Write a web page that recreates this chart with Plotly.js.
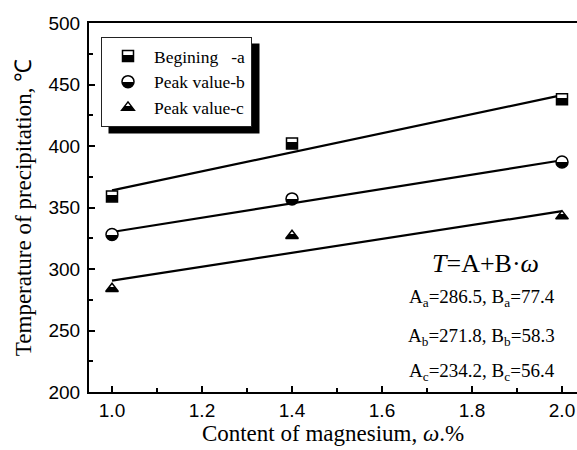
<!DOCTYPE html>
<html><head><meta charset="utf-8">
<script src="https://cdn.plot.ly/plotly-3.0.1.min.js"></script>
<style>html,body{margin:0;padding:0;overflow:hidden;background:#fff}</style>
</head><body>
<svg width="0" height="0" style="position:absolute">
<defs>
<linearGradient id="halfSq" x1="0" y1="0" x2="0" y2="1">
<stop offset="0" stop-color="#fff"/><stop offset="0.38" stop-color="#fff"/><stop offset="0.38" stop-color="#000"/><stop offset="1" stop-color="#000"/>
</linearGradient>
<linearGradient id="halfCi" x1="0" y1="0" x2="0" y2="1">
<stop offset="0" stop-color="#fff"/><stop offset="0.5" stop-color="#fff"/><stop offset="0.5" stop-color="#000"/><stop offset="1" stop-color="#000"/>
</linearGradient>
<linearGradient id="halfTr" x1="0" y1="0" x2="0" y2="1">
<stop offset="0" stop-color="#fff"/><stop offset="0.45" stop-color="#fff"/><stop offset="0.45" stop-color="#000"/><stop offset="1" stop-color="#000"/>
</linearGradient>
</defs></svg>
<div id="chart" style="width:577px;height:450px"></div>
<script>
// ---- data ----
const magnesium = [1.0, 1.4, 2.0];
const beginA = [359, 402, 438];
const peakB = [328, 357, 387];
const peakC = [284, 327, 343];
const fitX = [1.0, 2.0];
const fitA = [363.9, 441.3];
const fitB = [330.1, 388.4];
const fitC = [290.6, 347.0];
const seriesNames = ['Begining\u00a0\u00a0\u00a0-a', 'Peak value-b', 'Peak value-c'];
const coefSub = ['a', 'b', 'c'];
const coefA = ['286.5', '271.8', '234.2'];
const coefB = ['77.4', '58.3', '56.4'];
const xTickVals = [1.0, 1.2, 1.4, 1.6, 1.8, 2.0];
const xTickText = ['1.0', '1.2', '1.4', '1.6', '1.8', '2.0'];
const xMinorVals = [1.1, 1.3, 1.5, 1.7, 1.9];
const yTickVals = [200, 250, 300, 350, 400, 450, 500];
const yTickText = ['200', '250', '300', '350', '400', '450', '500'];
const yMinorVals = [225, 275, 325, 375, 425, 475];

// ---- geometry helpers (styles) ----
const W = 577, H = 450, ML = 89, MT = 23, MB = 58, MR = 0;
const PW = W - ML - MR, PH = H - MT - MB;
const px2x = p => (p - ML) / PW;
const px2y = p => 1 - (p - MT) / PH;
// x range: 1.0 at px 112, 2.0 at px 562
function px2xVal(p) { return 1.0 + (p - 112) / 450; }

const serif = 'Liberation Serif, Times New Roman, serif';
const sans = 'Liberation Sans, Arial, sans-serif';
const fills = ['url(#halfSq)', 'url(#halfCi)', 'url(#halfTr)'];
const symbols = ['square', 'circle', 'triangle-up'];
const sizes = [11, 12, 11];
const seriesY = [beginA, peakB, peakC];
const fitsY = [fitA, fitB, fitC];

const traces = [];
fitsY.forEach(f => traces.push({
  x: fitX, y: f, mode: 'lines', showlegend: false, hoverinfo: 'skip',
  line: {color: '#000', width: 2.2}
}));
seriesY.forEach((s, i) => traces.push({
  x: magnesium, y: s, mode: 'markers', name: seriesNames[i],
  marker: {symbol: symbols[i], size: sizes[i], color: '#000', line: {color: '#000', width: 1.5}}
}));

const annotations = [{
  xref: 'paper', yref: 'paper', x: px2x(485), y: px2y(263), xanchor: 'center', yanchor: 'middle',
  text: '<i>T</i>=A+B·<i>ω</i>', showarrow: false,
  font: {family: serif, size: 26, color: '#000'}
}];
const coefY = [298, 337, 372];
coefSub.forEach((s, i) => annotations.push({
  xref: 'paper', yref: 'paper', x: px2x(557), y: px2y(coefY[i]), xanchor: 'right', yanchor: 'middle',
  text: 'A<sub>' + s + '</sub>=' + coefA[i] + ', B<sub>' + s + '</sub>=' + coefB[i], showarrow: false,
  font: {family: serif, size: 19, color: '#000'}
}));

const axisCommon = {
  ticks: 'inside', ticklen: 6, tickwidth: 2, tickcolor: '#000',
  showline: true, linewidth: 2, linecolor: '#000', showgrid: false, zeroline: false,
  tickfont: {family: sans, size: 19, color: '#000'}, tickmode: 'array'
};

const layout = {
  width: W, height: H, margin: {l: ML, r: MR, t: MT, b: MB, pad: 0},
  paper_bgcolor: '#fff', plot_bgcolor: '#fff',
  xaxis: Object.assign({}, axisCommon, {
    range: [px2xVal(ML), px2xVal(W)], tickvals: xTickVals, ticktext: xTickText, mirror: true,
    minor: {tickmode: 'array', tickvals: xMinorVals, ticks: 'inside', ticklen: 4, tickwidth: 2, tickcolor: '#000', showgrid: false},
    title: {text: 'Content of magnesium, <i>ω</i>.%', font: {family: serif, size: 23, color: '#000'}, standoff: 5}
  }),
  yaxis: Object.assign({}, axisCommon, {
    range: [200, 500], tickvals: yTickVals, ticktext: yTickText, mirror: false,
    ticklabelstandoff: 3,
    minor: {tickmode: 'array', tickvals: yMinorVals, ticks: 'inside', ticklen: 4, tickwidth: 2, tickcolor: '#000', showgrid: false},
    title: {text: 'Temperature of precipitation, ℃', font: {family: serif, size: 23, color: '#000'}, standoff: 10}
  }),
  legend: {
    x: px2x(101), y: px2y(37), xanchor: 'left', yanchor: 'top',
    bgcolor: '#fff', bordercolor: '#222', borderwidth: 1, itemwidth: 42,
    font: {family: serif, size: 17.5, color: '#000'}
  },
  annotations: annotations,
  showlegend: true
};

const gd = document.getElementById('chart');
function applyFills() {
  const tr = gd.querySelectorAll('.scatterlayer .trace');
  for (let i = 0; i < 3; i++) {
    const t = tr[i + 3];
    if (t) t.querySelectorAll('path.point').forEach(p => { p.style.fill = fills[i]; });
  }
  const lg = gd.querySelectorAll('.legend .traces');
  lg.forEach((t, i) => {
    t.querySelectorAll('.legendpoints path').forEach(p => { p.style.fill = fills[i]; });
  });
}
Plotly.newPlot(gd, traces, layout, {staticPlot: true}).then(() => {
  const bg = gd.querySelector('.legend .bg');
  const r = bg.getBoundingClientRect();
  const c = gd.getBoundingClientRect();
  const l = r.left - c.left, t = r.top - c.top, rr = r.right - c.left, b = r.bottom - c.top;
  return Plotly.relayout(gd, {shapes: [{
    type: 'rect', xref: 'paper', yref: 'paper', layer: 'above',
    x0: px2x(l + 7), x1: px2x(rr + 8), y0: px2y(t + 6), y1: px2y(b + 7),
    fillcolor: '#000', line: {width: 0}
  }]});
}).then(applyFills);
</script>
</body></html>
